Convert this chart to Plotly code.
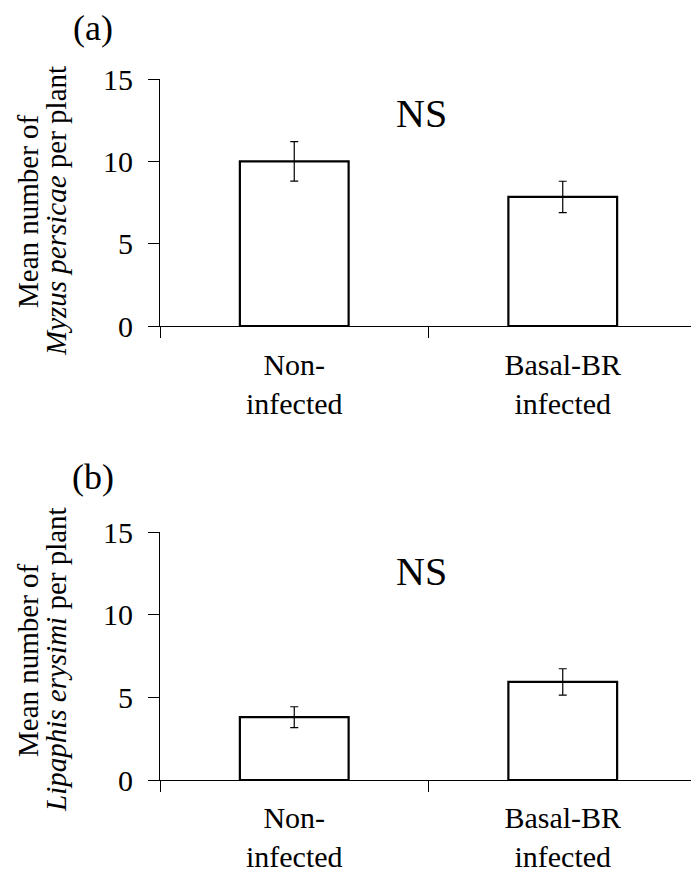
import plotly.graph_objects as go
from plotly.subplots import make_subplots

categories = ["Non-<br>infected", "Basal-BR<br>infected"]

myzus_mean = [10.0, 7.84]
myzus_se = [1.2, 0.95]

lipaphis_mean = [3.8, 5.93]
lipaphis_se = [0.63, 0.8]

y_ticks = [0, 5, 10, 15]

FONT = "Liberation Serif, Times New Roman, serif"
W, H = 691, 866  # page body has an 8px margin

fig = make_subplots(rows=2, cols=1)

for row, means, errs in [(1, myzus_mean, myzus_se), (2, lipaphis_mean, lipaphis_se)]:
    fig.add_trace(
        go.Bar(
            x=categories,
            y=means,
            width=0.405,
            marker=dict(color="white", line=dict(color="black", width=2.2)),
            error_y=dict(type="data", array=errs, color="black", thickness=1.2, width=4),
            showlegend=False,
        ),
        row=row,
        col=1,
    )

axis_common = dict(
    showline=True,
    linecolor="black",
    linewidth=1,
    ticks="outside",
    ticklen=11,
    tickcolor="black",
    tickwidth=1,
    showgrid=False,
    zeroline=False,
    automargin=False,
)

x_dom = [152 / W, 689 / W]
xfont = dict(family=FONT, size=30, color="black")
yfont = dict(family=FONT, size=30, color="black")
fig.update_layout(
    xaxis=dict(domain=x_dom, tickson="boundaries", range=[-0.5, 1.5],
               tickfont=xfont, ticklabelstandoff=12, **axis_common),
    xaxis2=dict(domain=x_dom, tickson="boundaries", range=[-0.5, 1.5],
                tickfont=xfont, ticklabelstandoff=11, **axis_common),
    yaxis=dict(domain=[1 - 318 / H, 1 - 71 / H], range=[0, 15], tickvals=y_ticks,
               tickfont=yfont, ticklabelstandoff=9, **axis_common),
    yaxis2=dict(domain=[1 - 772 / H, 1 - 524 / H], range=[0, 15], tickvals=y_ticks,
                tickfont=yfont, ticklabelstandoff=9, **axis_common),
    width=W,
    height=H,
    margin=dict(l=0, r=0, t=0, b=0),
    plot_bgcolor="white",
    paper_bgcolor="white",
    font=dict(family=FONT, color="black"),
)

annotations = [
    dict(text="(a)", x=85, y=20, size=36, angle=0),
    dict(text="(b)", x=85, y=469, size=36, angle=0),
    dict(text="NS", x=413, y=106, size=40, angle=0),
    dict(text="NS", x=413, y=563, size=40, angle=0),
    dict(text="Mean number of", x=20, y=203, size=29, angle=-90),
    dict(text="<i>Myzus persicae</i> per plant", x=48, y=203, size=29, angle=-90),
    dict(text="Mean number of", x=20, y=652, size=29, angle=-90),
    dict(text="<i>Lipaphis erysimi</i> per plant", x=48, y=652, size=29, angle=-90),
]
for a in annotations:
    fig.add_annotation(
        text=a["text"], x=a["x"] / W, y=1 - a["y"] / H, xref="paper", yref="paper",
        xanchor="center", yanchor="middle", showarrow=False, textangle=a["angle"],
        font=dict(family=FONT, size=a["size"], color="black"),
    )

fig.write_html("out.html")
